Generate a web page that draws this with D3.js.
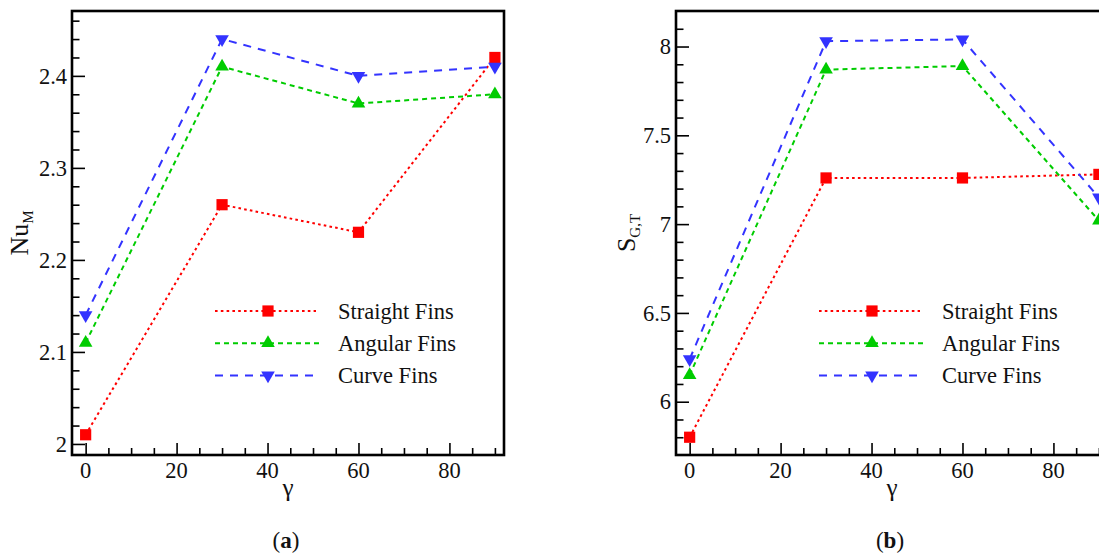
<!DOCTYPE html>
<html>
<head>
<meta charset="utf-8">
<script src="https://cdn.jsdelivr.net/npm/d3@7"></script>
<style>
  body { margin: 0; background: #fff; }
  svg { display: block; font-family: "Liberation Serif", "Times New Roman", serif; }
  .lbl { font-family: "Liberation Serif", serif; font-size: 22.5px; fill: #111; }
</style>
</head>
<body>
<svg id="chart" width="1099" height="555"></svg>
<script>
// values
var gamma = [0, 30, 60, 90];
var seriesNames = ["Straight Fins", "Angular Fins", "Curve Fins"];
var nuStraight = [2.01, 2.26, 2.23, 2.42];
var nuAngular  = [2.11, 2.41, 2.37, 2.38];
var nuCurve    = [2.14, 2.44, 2.40, 2.41];
var sgtStraight = [5.80, 7.26, 7.26, 7.28];
var sgtAngular  = [6.15, 7.87, 7.89, 7.02];
var sgtCurve    = [6.24, 8.03, 8.04, 7.15];
var xTicks = [0, 20, 40, 60, 80];
var nuTicks = [2, 2.1, 2.2, 2.3, 2.4];
var sgtTicks = [6, 6.5, 7, 7.5, 8];

// look of the three series
var styles = [
  { color: "#ff0000", dash: "2.6,3.2", marker: "square" },
  { color: "#00cc00", dash: "5,4",     marker: "up" },
  { color: "#3333ff", dash: "8,7",     marker: "down" }
];

var svg = d3.select("#chart");
var pw = 432, ph = 444;

function drawMarker(g, kind, color, x, y) {
  if (kind == "square") {
    g.append("rect").attr("x", x - 5.6).attr("y", y - 5.6)
      .attr("width", 11.2).attr("height", 11.2).attr("fill", color);
  } else {
    var sym = d3.symbol().type(d3.symbolTriangle).size(80);
    g.append("path").attr("d", sym())
      .attr("transform", "translate(" + x + "," + y + ")" + (kind == "down" ? " rotate(180)" : ""))
      .attr("fill", color);
  }
}

function drawPanel(opt) {
  var g = svg.append("g").attr("transform", "translate(" + opt.left + ",11)");

  var x = d3.scaleLinear().domain([-3, 92]).range([0, pw]);
  var y = d3.scaleLinear().domain(opt.yDomain).range([ph, 0]);

  // minor ticks
  var xMinor = d3.range(0, 91, 5).filter(d => xTicks.indexOf(d) < 0);
  g.append("g").attr("transform", "translate(0," + ph + ")")
    .call(d3.axisBottom(x).tickValues(xMinor).tickSize(-7).tickFormat(""))
    .call(a => a.select(".domain").remove());
  g.append("g")
    .call(d3.axisLeft(y).tickValues(opt.yMinor).tickSize(-7.5).tickFormat(""))
    .call(a => a.select(".domain").remove());

  // major ticks (lines only, labels drawn below)
  g.append("g").attr("transform", "translate(0," + ph + ")")
    .call(d3.axisBottom(x).tickValues(xTicks).tickSize(-12).tickFormat(""))
    .call(a => a.select(".domain").remove());
  g.append("g")
    .call(d3.axisLeft(y).tickValues(opt.yTicks).tickSize(-13).tickFormat(""))
    .call(a => a.select(".domain").remove());
  g.selectAll(".tick line").attr("stroke", "#000").attr("stroke-width", 1.6);

  // tick labels
  g.append("g").selectAll("text").data(xTicks).join("text")
    .attr("class", "lbl").attr("x", d => x(d)).attr("y", ph + 23)
    .attr("text-anchor", "middle").text(d3.format("d"));
  g.append("g").selectAll("text").data(opt.yTicks).join("text")
    .attr("class", "lbl").attr("x", -5).attr("y", d => y(d)).attr("dy", "0.34em")
    .attr("text-anchor", "end").text(opt.fmt);

  // frame
  g.append("rect").attr("width", pw).attr("height", ph)
    .attr("fill", "none").attr("stroke", "#000").attr("stroke-width", 2.6);

  // series
  var line = d3.line().x((d, i) => x(gamma[i])).y(d => y(d));
  opt.series.forEach((vals, k) => {
    var st = styles[k];
    g.append("path").datum(vals).attr("d", line)
      .attr("fill", "none").attr("stroke", st.color)
      .attr("stroke-width", 2).attr("stroke-dasharray", st.dash);
    vals.forEach((v, i) => drawMarker(g, st.marker, st.color, x(gamma[i]), y(v)));
  });

  // legend
  var lg = g.append("g").attr("transform", "translate(143,300)");
  var lineEnds = [101, 105, 98];
  seriesNames.forEach((name, k) => {
    var st = styles[k];
    var row = lg.append("g").attr("transform", "translate(0," + (k * 32.2) + ")");
    row.append("line").attr("x1", 0).attr("x2", lineEnds[k]).attr("y1", 0).attr("y2", 0)
      .attr("stroke", st.color).attr("stroke-width", 2).attr("stroke-dasharray", st.dash);
    drawMarker(row, st.marker, st.color, 53, 0);
    row.append("text").attr("x", 123).attr("y", 7.5)
      .attr("font-size", 22.5).attr("fill", "#111").text(name);
  });

  // axis titles
  g.append("text").attr("x", pw / 2).attr("y", 485).attr("text-anchor", "middle")
    .attr("font-size", 25).attr("fill", "#111").text("γ");

  var yl = g.append("text").attr("transform", "translate(" + opt.ylabX + "," + 222 + ") rotate(-90)")
    .attr("text-anchor", "middle").attr("font-size", 26).attr("fill", "#111");
  yl.append("tspan").text(opt.ylab[0]);
  yl.append("tspan").attr("dy", 5).attr("font-size", 15).text(opt.ylab[1]);

  // panel caption
  var cap = g.append("text").attr("x", pw / 2 - 2).attr("y", 537).attr("text-anchor", "middle")
    .attr("font-size", 23).attr("fill", "#111");
  cap.append("tspan").text("(");
  cap.append("tspan").attr("font-weight", "bold").text(opt.caption);
  cap.append("tspan").text(")");
}

drawPanel({
  left: 72,
  yDomain: [1.988, 2.4705],
  yTicks: nuTicks,
  yMinor: d3.range(2.02, 2.47, 0.02).map(d => +d.toFixed(2)).filter(d => Math.round(d * 100) % 10 != 0),
  fmt: d => d == 2 ? "2" : d3.format(".1f")(d),
  series: [nuStraight, nuAngular, nuCurve],
  ylab: ["Nu", "M"],
  ylabX: -44,
  caption: "a"
});

drawPanel({
  left: 676,
  yDomain: [5.70, 8.20],
  yTicks: sgtTicks,
  yMinor: d3.range(5.8, 8.2, 0.1).map(d => +d.toFixed(1)).filter(d => Math.round(d * 10) % 5 != 0),
  fmt: d => d % 1 == 0 ? d3.format("d")(d) : d3.format(".1f")(d),
  series: [sgtStraight, sgtAngular, sgtCurve],
  ylab: ["S", "G,T"],
  ylabX: -41,
  caption: "b"
});
</script>
</body>
</html>
